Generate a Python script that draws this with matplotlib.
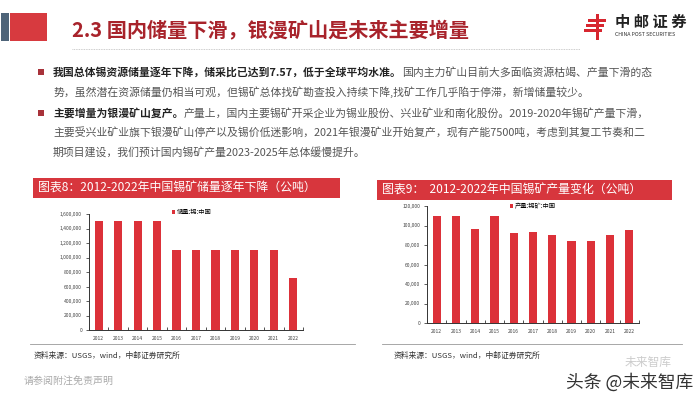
import numpy as np
import matplotlib.pyplot as plt
from matplotlib.patches import Rectangle
from matplotlib.lines import Line2D

plt.rcParams["font.family"] = ["Noto Sans CJK SC", "DejaVu Sans"]

# data
years = ["2012", "2013", "2014", "2015", "2016", "2017", "2018", "2019", "2020", "2021", "2022"]
reserves = [1500000, 1500000, 1500000, 1500000, 1100000, 1100000, 1100000, 1100000, 1100000, 1100000, 720000]
production = [110000, 110000, 96000, 110000, 92000, 93000, 90000, 84000, 84000, 90000, 95000]
reserve_ticks = [0, 200000, 400000, 600000, 800000, 1000000, 1200000, 1400000, 1600000]
production_ticks = [0, 20000, 40000, 60000, 80000, 100000, 120000]

W, H = 700, 394
RED = "#dc3139"

fig = plt.figure(figsize=(W / 100, H / 100), dpi=100)
fig.patch.set_facecolor("white")


def fx(x):
    return x / W


def fy(y):
    return 1 - y / H


def rect(x, y, w, h, **kw):
    fig.patches.append(Rectangle((fx(x), fy(y + h)), w / W, h / H, transform=fig.transFigure, **kw))


def hline(x0, x1, y, **kw):
    fig.lines.append(Line2D([fx(x0), fx(x1)], [fy(y), fy(y)], transform=fig.transFigure, **kw))


# header
rect(1, 13, 8, 28, color="#4e6479", lw=0)
rect(10, 13, 37, 28, color="#d73a3f", lw=0)
fig.text(fx(72), fy(30), "2.3 国内储量下滑，银漫矿山是未来主要增量", fontsize=14.5,
         fontweight="bold", color="#a8232b", va="center")
hline(72, 580, 49, color="#bbbbbb", lw=0.6, ls=(0, (1, 1)))

# logo
for i, yy in enumerate([19, 24, 29]):
    rect(588 - i * 2, yy, 18, 2.6, color="#d7262f", lw=0)
rect(596, 14, 2.6, 26, color="#d7262f", lw=0)
fig.text(fx(615), fy(22), "中 邮 证 券", fontsize=11, fontweight="bold", color="#222222", va="center")
fig.text(fx(615), fy(35), "CHINA POST SECURITIES", fontsize=3.8, color="#333333", va="center")

# bullet text
renderer = fig.canvas.get_renderer()
body_fs = 7.8
rows = [
    (72, "我国总体锡资源储量逐年下降，储采比已达到7.57，低于全球平均水准。", "国内主力矿山目前大多面临资源枯竭、产量下滑的态"),
    (92, "", "势，虽然潜在资源储量仍相当可观，但锡矿总体找矿勘查投入持续下降,找矿工作几乎陷于停滞，新增储量较少。"),
    (113, "主要增量为银漫矿山复产。", "产量上，国内主要锡矿开采企业为锡业股份、兴业矿业和南化股份。2019-2020年锡矿产量下滑，"),
    (133, "", "主要受兴业矿业旗下银漫矿山停产以及锡价低迷影响，2021年银漫矿业开始复产，现有产能7500吨，考虑到其复工节奏和二"),
    (152, "", "期项目建设，我们预计国内锡矿产量2023-2025年总体缓慢提升。"),
]
for y, bold, normal in rows:
    x = fx(53)
    if bold:
        rect(38, y - 3, 6, 6, color="#a8323a", lw=0)
        t = fig.text(x, fy(y), bold, fontsize=body_fs, fontweight="bold", color="#222222", va="center")
        bb = t.get_window_extent(renderer)
        x = bb.x1 / (fig.dpi * fig.get_figwidth())
    fig.text(x, fy(y), normal, fontsize=body_fs, color="#555555", va="center")

# chart title bars
rect(33, 178, 307, 20, color="#d7363d", lw=0)
fig.text(fx(38), fy(188), "图表8：2012-2022年中国锡矿储量逐年下降（公吨）", fontsize=8.6, color="white", va="center")
rect(377, 180, 295, 20, color="#d7363d", lw=0)
fig.text(fx(382), fy(190), "图表9：  2012-2022年中国锡矿产量变化（公吨）", fontsize=8.6, color="white", va="center")


def bar_chart(pos, values, ticks, label, legend_xy):
    ax = fig.add_axes(pos)
    x = np.arange(len(years))
    ax.bar(x, values, width=0.42, color=RED, label=label)
    ax.set_xlim(-0.5, len(years) - 0.5)
    ax.set_ylim(ticks[0], ticks[-1])
    ax.set_yticks(ticks)
    ax.set_yticklabels([f"{t:,}" for t in ticks])
    ax.set_xticks(x)
    ax.set_xticklabels(years)
    ax.set_xticks(np.arange(len(years) + 1) - 0.5, minor=True)
    ax.tick_params(axis="x", which="major", length=0, labelsize=3.6, pad=4, colors="#444444")
    ax.tick_params(axis="x", which="minor", length=2, width=0.6, direction="in", color="#333333")
    ax.tick_params(axis="y", length=2, width=0.6, labelsize=3.6, pad=3, colors="#444444")
    ax.spines[["top", "right"]].set_visible(False)
    for s in ["left", "bottom"]:
        ax.spines[s].set_linewidth(0.7)
        ax.spines[s].set_color("#333333")
    ax.set_facecolor("white")
    ax.legend(loc="center", bbox_to_anchor=legend_xy, bbox_transform=fig.transFigure,
              frameon=False, fontsize=4.5, handlelength=0.5, handleheight=0.5, handletextpad=0.3)
    return ax


bar_chart([fx(89), fy(330), (303 - 89) / W, (330 - 214) / H], reserves, reserve_ticks,
          "储量:锡:中国", (fx(192), fy(212)))
bar_chart([fx(427), fy(323), (639 - 427) / W, (323 - 206) / H], production, production_ticks,
          "产量:锡矿:中国", (fx(533), fy(206)))

# separators and sources
hline(30, 355, 344, color="#999999", lw=0.6)
hline(382, 682, 344, color="#999999", lw=0.6)
fig.text(fx(34), fy(356), "资料来源：USGS，wind，中邮证券研究所", fontsize=5.6, color="#333333", va="center")
fig.text(fx(394), fy(356), "资料来源：USGS，wind，中邮证券研究所", fontsize=5.6, color="#333333", va="center")

# footer
fig.text(fx(24), fy(381), "请参阅附注免责声明", fontsize=7.2, color="#aaaaaa", va="center")
fig.text(fx(625), fy(362), "未来智库", fontsize=8.5, color="#cccccc", va="center")
fig.text(fx(566), fy(382), "头条 @未来智库", fontsize=12.8, color="#333333", va="center")

fig.savefig("out.png", dpi=100)
